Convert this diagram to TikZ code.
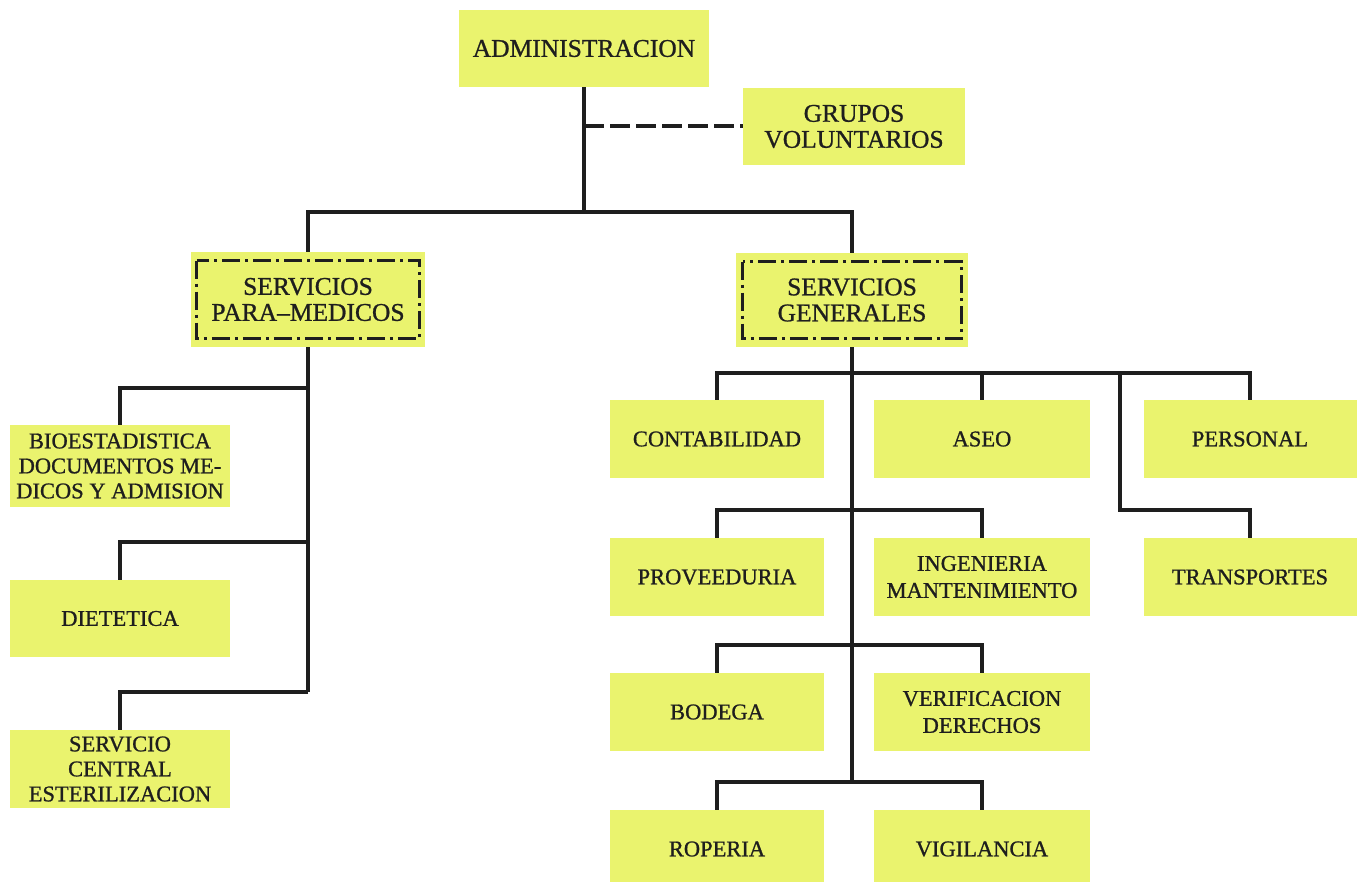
\documentclass[tikz,border=0pt]{standalone}
\usepackage{fontspec}
\setmainfont{Liberation Serif}[FakeBold=0.9]
\definecolor{boxfill}{RGB}{234,243,110}
\definecolor{ink}{RGB}{30,30,30}
\begin{document}
\begin{tikzpicture}[x=0.5pt,y=-0.5pt,
  box/.style={fill=boxfill, draw=none, inner sep=0pt, align=center, text=ink},
  big/.style={box, font=\fontsize{12.75}{13}\selectfont},
  small/.style={box, font=\fontsize{11.25}{13.5}\selectfont},
  left/.style={box, font=\fontsize{11.25}{12.5}\selectfont, minimum width=110pt},
  cell/.style={small, minimum height=39pt},
  ca/.style={cell, minimum width=107pt},
  cb/.style={cell, minimum width=108pt},
  cc/.style={cell, minimum width=106.5pt},
  conn/.style={draw=ink, line width=2pt, line cap=butt, line join=miter},
  dashline/.style={conn, dash pattern=on 10pt off 3pt},
  dashdotbox/.style={draw=ink, line width=1.5pt, line cap=butt, dash pattern=on 9pt off 2.5pt on 1.5pt off 2.5pt}
]
\useasboundingbox (0,0) rectangle (1362,882);
\clip (0,0) rectangle (1362,882);

% top
\node[big, minimum width=125pt, minimum height=38.5pt] (adm) at (584,48.5) {ADMINISTRACION};
\node[big, minimum width=111pt, minimum height=38.5pt] (grp) at (854,126.5) {GRUPOS\\VOLUNTARIOS};
\node[big, minimum width=117pt, minimum height=47.5pt] (spm) at (308,299.5) {SERVICIOS\\PARA--MEDICOS};
\node[big, minimum width=116pt, minimum height=47pt] (sg) at (852,300) {SERVICIOS\\GENERALES};
\draw[dashdotbox] ([shift={(6,9)}]spm.north west) rectangle ([shift={(-6,-9)}]spm.south east);
\draw[dashdotbox] ([shift={(7,9)}]sg.north west) rectangle ([shift={(-7,-9)}]sg.south east);

% left column
\node[left, minimum height=41pt] (bio) at (120,466) {BIOESTADISTICA\\DOCUMENTOS ME-\\DICOS Y ADMISION};
\node[left, minimum height=38.5pt] (diet) at (120,618.5) {DIETETICA};
\node[left, minimum height=39pt] (serv) at (120,769) {SERVICIO\\CENTRAL\\ESTERILIZACION};

% right grid
\node[ca] (cont) at (717,439) {CONTABILIDAD};
\node[cb] (aseo) at (982,439) {ASEO};
\node[cc] (pers) at (1250,439) {PERSONAL};
\node[ca] (prov) at (717,577) {PROVEEDURIA};
\node[cb] (ing) at (982,577) {INGENIERIA\\MANTENIMIENTO};
\node[cc] (trans) at (1250,577) {TRANSPORTES};
\node[ca] (bod) at (717,712) {BODEGA};
\node[cb] (ver) at (982,712) {VERIFICACION\\DERECHOS};
\node[ca] (rop) at (717,849) {ROPERIA};
\node[cb] (vig) at (982,849) {VIGILANCIA};

% junction coordinates
\coordinate (j1) at (584,212);
\coordinate (l1) at (308,388);
\coordinate (l2) at (308,542);
\coordinate (l3) at (308,692);
\coordinate (r1) at (852,373);
\coordinate (r2) at (852,510);
\coordinate (r3) at (852,645);
\coordinate (r4) at (852,782);
\coordinate (t1) at (1120,373);

% connectors top
\draw[conn] (adm.south) -- (j1);
\draw[dashline] (adm.south |- grp.west) -- (grp.west);
\draw[conn] (spm.north) -- (spm.north |- j1) -- (sg.north |- j1) -- (sg.north);

% left
\draw[conn] (spm.south) -- (l3);
\draw[conn] (l1) -| (bio.north);
\draw[conn] (l2) -| (diet.north);
\draw[conn] (l3) -| (serv.north);

% right
\draw[conn] (sg.south) -- (r4);
\draw[conn] (cont.north) -- (cont.north |- r1) -- (pers.north |- r1) -- (pers.north);
\draw[conn] (aseo.north) -- (aseo.north |- r1);
\draw[conn] (t1) |- (trans.north |- r2) -- (trans.north);
\draw[conn] (prov.north) -- (prov.north |- r2) -- (ing.north |- r2) -- (ing.north);
\draw[conn] (bod.north) -- (bod.north |- r3) -- (ver.north |- r3) -- (ver.north);
\draw[conn] (rop.north) -- (rop.north |- r4) -- (vig.north |- r4) -- (vig.north);
\end{tikzpicture}
\end{document}
